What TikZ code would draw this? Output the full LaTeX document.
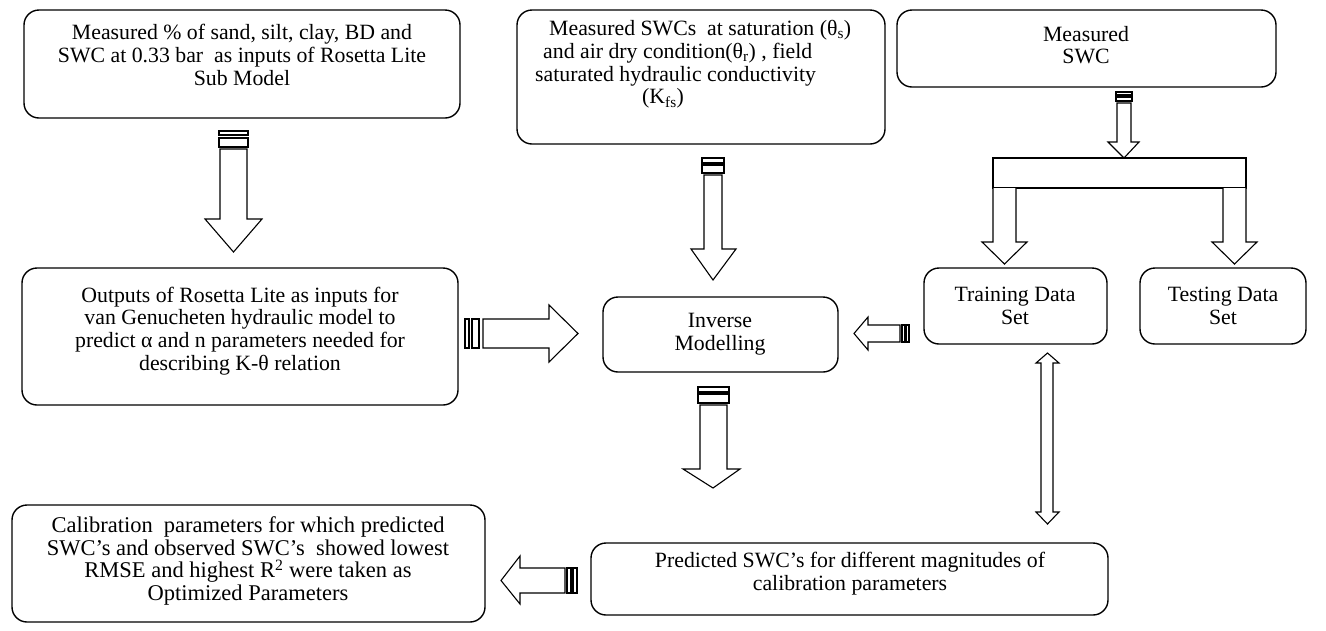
\documentclass[tikz,border=0pt]{standalone}
\usepackage{fontspec}
\setmainfont{Liberation Serif}
\begin{document}
\begin{tikzpicture}[x=1pt,y=-1pt,
  box/.style={draw,line width=1.4pt,rounded corners=15pt,inner sep=0pt},
  txt/.style={align=center,inner sep=0pt,font=\fontsize{21.8}{22.8}\selectfont},
  blk/.style={draw,line width=1.1pt,fill=white,line join=miter}]
\useasboundingbox (0,0) rectangle (1326,630);
% boxes
\draw[box] (24,10) rectangle (460,118); \node[txt] (A) at (242,55) {Measured \% of sand, silt, clay, BD and\\SWC at 0.33 bar\ \ as inputs of Rosetta Lite\\Sub Model};
\draw[box] (517,10) rectangle (885,144); \node[txt,align=left,anchor=north west] (B) at (535,20) {\hspace*{14pt}Measured SWCs\ \ at saturation (θ\textsubscript{s})\\\hspace*{8pt}and air dry condition(θ\textsubscript{r}) , field\\saturated hydraulic conductivity\\\hspace*{107pt}(K\textsubscript{fs})};
\draw[box] (897,10) rectangle (1276,87); \node[txt] (C) at (1086,45) {Measured\\SWC};
\draw[box] (22,268) rectangle (458,405); \node[txt] (D) at (240,331) {Outputs of Rosetta Lite as inputs for\\van Genucheten hydraulic model to\\predict α and n parameters needed for\\describing K-θ relation};
\draw[box] (603,297) rectangle (838,372); \node[txt] (I) at (720,334) {Inverse\\Modelling};
\draw[box] (924,268) rectangle (1107,344); \node[txt] (Tr) at (1015,306) {Training Data\\Set};
\draw[box] (1140,268) rectangle (1306,344); \node[txt] (Te) at (1223,306) {Testing Data\\Set};
\draw[box] (591,543) rectangle (1108,615); \node[txt] (E) at (850,574) {Predicted SWC's for different magnitudes of\\calibration parameters};
\draw[box] (12,505) rectangle (485,622); \node[txt,font=\fontsize{22.5}{22.5}\selectfont] (F) at (248,561) {Calibration\ \ parameters for which predicted\\SWC's and observed SWC's\ \ showed lowest\\RMSE and highest R\textsuperscript{2} were taken as\\Optimized Parameters};
% arrow A down
\draw[blk] (219,131) rectangle (248,135);
\draw[blk] (219,138) rectangle (248,147);
\draw[blk] (220,149) -- (220,219) -- (205,219) -- (233.5,252) -- (262,219) -- (247,219) -- (247,149) -- cycle;
% arrow B down
\draw[blk] (702,158) rectangle (724,163);
\draw[blk] (702,165) rectangle (724,173);
\draw[blk] (704,175) -- (704,249) -- (691,249) -- (713,280) -- (736,249) -- (722,249) -- (722,175) -- cycle;
% arrow Inverse down
\draw[blk] (698,387) rectangle (729,392);
\draw[blk] (698,394) rectangle (729,403);
\draw[blk] (700,405) -- (700,469) -- (683,469) -- (713,488) -- (740,469) -- (727,469) -- (727,405) -- cycle;
% arrow C down
\draw[blk] (1116,92) rectangle (1132,95);
\draw[blk] (1116,97) rectangle (1132,101);
\draw[blk] (1117,103) -- (1117,142) -- (1108,142) -- (1124,158) -- (1139,142) -- (1131,142) -- (1131,103) -- cycle;
% split bar
\draw[blk] (993,158) rectangle (1246,188);
\draw[blk] (1223,188) -- (1223,242) -- (1212,242) -- (1234.5,264) -- (1257,242) -- (1246,242) -- (1246,188);
\draw[blk] (993,188) -- (993,242) -- (982,242) -- (1004.5,264) -- (1027,242) -- (1016,242) -- (1016,188);
% arrow D -> I
\draw[blk] (465,319) rectangle (469,348);
\draw[blk] (472,319) rectangle (479,348);
\draw[blk] (483,319) -- (549,319) -- (549,305) -- (578,333.5) -- (549,362) -- (549,348) -- (483,348) -- cycle;
% arrow Tr -> I
\draw[blk] (902,325) rectangle (905,342);
\draw[blk] (906,325) rectangle (909,342);
\draw[blk] (900,325) -- (868,325) -- (868,317) -- (854,333.5) -- (868,350) -- (868,342) -- (900,342) -- cycle;
% double arrow
\draw[blk] (1047.5,353) -- (1059,363) -- (1053,363) -- (1053,512) -- (1059,512) -- (1047.5,524) -- (1036,512) -- (1041,512) -- (1041,363) -- (1036,363) -- cycle;
% arrow E -> F
\draw[blk] (567,568) rectangle (571,593);
\draw[blk] (573,568) rectangle (577,593);
\draw[blk] (565,568) -- (520,568) -- (520,556) -- (501,580.5) -- (520,604) -- (520,593) -- (565,593) -- cycle;
\end{tikzpicture}
\end{document}
